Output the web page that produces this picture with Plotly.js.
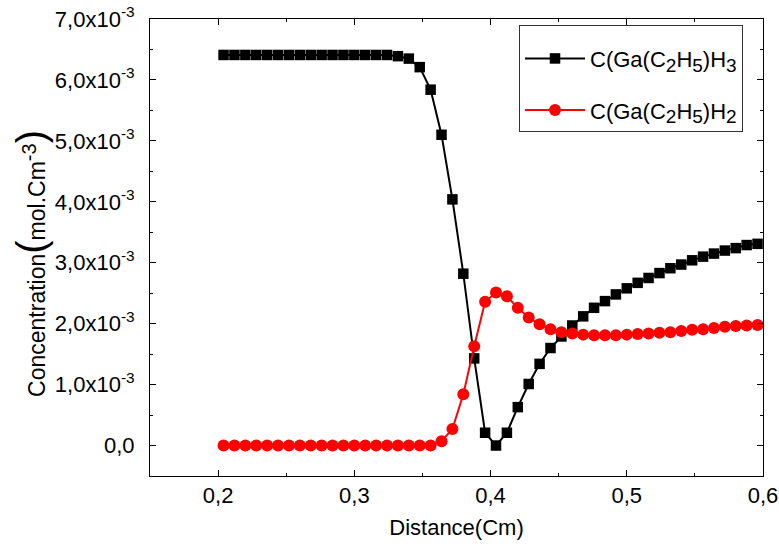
<!DOCTYPE html>
<html>
<head>
<meta charset="utf-8">
<script src="https://cdn.plot.ly/plotly-3.0.1.min.js"></script>
<style>html,body{margin:0;padding:0;background:#fff;}#chart{width:779px;height:546px;}</style>
</head>
<body>
<div id="chart"></div>
<script>
// Distance (cm)
var distance = [0.204,0.212,0.220,0.228,0.236,0.244,0.252,0.260,0.268,0.276,
                0.284,0.292,0.300,0.308,0.316,0.324,0.332,0.340,0.348,0.356,
                0.364,0.372,0.380,0.388,0.396,0.404,0.412,0.420,0.428,0.436,
                0.444,0.452,0.460,0.468,0.476,0.484,0.492,0.500,0.508,0.516,
                0.524,0.532,0.540,0.548,0.556,0.564,0.572,0.580,0.588,0.596];

// Concentrations, in units of 10^-3 mol.cm^-3
var concGaC2H5H3 = [6.41,6.41,6.41,6.41,6.41,6.41,6.41,6.41,6.41,6.41,
                    6.41,6.41,6.41,6.41,6.41,6.41,6.39,6.35,6.21,5.84,
                    5.10,4.04,2.82,1.43,0.21,0.00,0.21,0.63,1.01,1.34,
                    1.60,1.79,1.97,2.12,2.26,2.37,2.48,2.58,2.67,2.75,
                    2.83,2.91,2.97,3.04,3.10,3.15,3.20,3.24,3.29,3.31];

var concGaC2H5H2 = [0,0,0,0,0,0,0,0,0,0,
                    0,0,0,0,0,0,0,0,0,0,
                    0.07,0.27,0.84,1.63,2.36,2.51,2.45,2.26,2.10,1.99,
                    1.91,1.86,1.84,1.82,1.81,1.81,1.81,1.82,1.83,1.84,
                    1.85,1.86,1.88,1.90,1.91,1.93,1.95,1.96,1.97,1.98];

var SUB = "<sub><span style='font-size:19px'>";
var ESUB = "</span></sub>";
var seriesNames = ["C(Ga(C" + SUB + "2" + ESUB + "H" + SUB + "5" + ESUB + ")H" + SUB + "3" + ESUB,
                   "C(Ga(C" + SUB + "2" + ESUB + "H" + SUB + "5" + ESUB + ")H" + SUB + "2" + ESUB];

var xTickVals = [0.2,0.3,0.4,0.5,0.6];
var xTickText = ["0,2","0,3","0,4","0,5","0,6"];
var yTickVals = [0,1,2,3,4,5,6,7];
var yTickText = ["0,0","1,0x10<sup>-3</sup>","2,0x10<sup>-3</sup>","3,0x10<sup>-3</sup>",
                 "4,0x10<sup>-3</sup>","5,0x10<sup>-3</sup>","6,0x10<sup>-3</sup>","7,0x10<sup>-3</sup>"];

var FONT = "Liberation Sans, Arial, sans-serif";

var traces = [
  {x: distance, y: concGaC2H5H3, name: seriesNames[0], type: "scatter", mode: "lines+markers",
   legendgroup: "a",
   line: {color: "#000000", width: 2},
   marker: {symbol: "square", size: 10.5, color: "#000000"}},
  {x: distance, y: concGaC2H5H2, name: seriesNames[1], type: "scatter", mode: "lines+markers",
   legendgroup: "b",
   line: {color: "#ff0000", width: 2},
   marker: {symbol: "circle", size: 12, color: "#ff0000"}}
];

var axisCommon = {
  showgrid: false, zeroline: false, showline: true, linecolor: "#000", linewidth: 1,
  mirror: "ticks", ticks: "inside", ticklen: 6, tickwidth: 1, tickcolor: "#000",
  tickfont: {family: FONT, size: 22, color: "#000"}
};

var layout = {
  width: 779, height: 546,
  margin: {l: 150, r: 16, t: 19, b: 70},
  paper_bgcolor: "#fff", plot_bgcolor: "#fff",
  font: {family: FONT, size: 22, color: "#000"},
  showlegend: true,
  legend: {x: 0.602, y: 0.987, xanchor: "left", yanchor: "top",
           bordercolor: "#333", borderwidth: 1, bgcolor: "#fff",
           font: {family: FONT, size: 22, color: "#000"},
           title: {text: "&nbsp;", font: {family: FONT, size: 9}},
           itemwidth: 60, tracegroupgap: 20},
  xaxis: Object.assign({}, axisCommon, {
    range: [0.15, 0.6], tickmode: "array", tickvals: xTickVals, ticktext: xTickText,
    ticklabelstandoff: 0,
    minor: {tickmode: "array", tickvals: [0.15,0.25,0.35,0.45,0.55], ticks: "inside", ticklen: 3, tickcolor: "#000"},
    title: {text: "Distance(Cm)", font: {family: FONT, size: 22, color: "#000"}, standoff: 12}
  }),
  yaxis: Object.assign({}, axisCommon, {
    range: [-0.5, 7], tickmode: "array", tickvals: yTickVals, ticktext: yTickText,
    ticklabelstandoff: 10,
    minor: {tickmode: "array", tickvals: [-0.5,0.5,1.5,2.5,3.5,4.5,5.5,6.5], ticks: "inside", ticklen: 3, tickcolor: "#000"},
    title: {text: "Concentration<span style='font-size:40px'>(</span>mol.Cm<sup><span style='font-size:20px'>-3</span></sup><span style='font-size:40px'>)</span>&nbsp;&nbsp;&nbsp;&nbsp;&nbsp;",
            font: {family: FONT, size: 23, color: "#000"}, standoff: 2}
  })
};

Plotly.newPlot("chart", traces, layout, {displayModeBar: false, staticPlot: true});
</script>
</body>
</html>
